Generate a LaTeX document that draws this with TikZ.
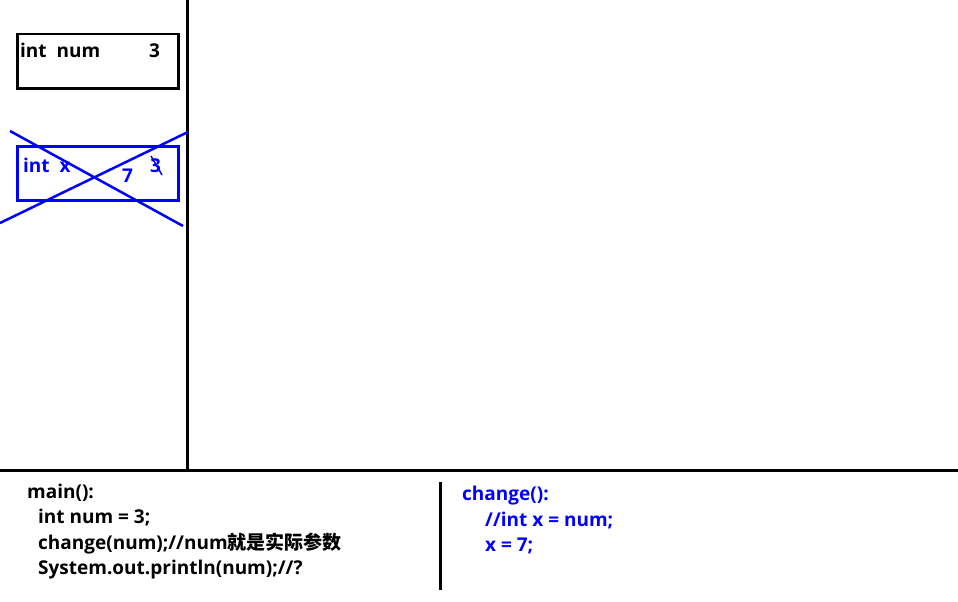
\documentclass[tikz,border=0pt]{standalone}
\usepackage{fontspec}
\setmainfont{Open Sans}
\newfontfamily\cjk{Noto Sans CJK SC}
\usetikzlibrary{positioning}

\tikzset{
  code/.style={anchor=base west, inner sep=0pt, font=\bfseries\fontsize{19}{21}\selectfont},
  slot/.style={draw, line width=2.5pt, anchor=north west, minimum width=161pt, minimum height=54pt},
  wall/.style={line width=3pt},
  cross/.style={blue, line width=2.5pt},
}

\begin{document}
\begin{tikzpicture}[x=1pt, y=-1pt]
\useasboundingbox (0,0) rectangle (958,602);

% frame lines
\draw[wall]
(187,0) -- (187,470)
(0,470) -- (958,470)
(440,482) -- (440,590);

% stack slots
\node[slot] (numbox) at (16,33) {};
\node[slot, blue] (xbox) at (16,145) {};

\node[code] (numlabel) at (20,57) {int\ \ num};
\node[code] (numval) at (149,57) {3};
\node[code, text=blue] (xlabel) at (23,172) {int\ \ x};
\node[code, text=blue] (xval) at (122,182) {7};
\node[code, text=blue] (xold) at (150,172) {3};

% crossed out
\draw[cross]
(10,131) -- (183,226)
(0,223) -- (188,132);
\draw[blue, line width=1.5pt] (151,156) -- (162,175);

% main()
\node[code] (m1) at (27,498) {main():};
\node[code] (m2) at (38,523) {int num = 3;};
\node[code] (m3) at (38,549) {change(num);//num{\cjk 就是实际参数}};
\node[code] (m4) at (38,574) {System.out.println(num);//?};

% change()
\node[code, text=blue] (c1) at (462,500) {change():};
\node[code, text=blue] (c2) at (485,526) {//int x = num;};
\node[code, text=blue] (c3) at (485,551) {x = 7;};
\end{tikzpicture}
\end{document}
